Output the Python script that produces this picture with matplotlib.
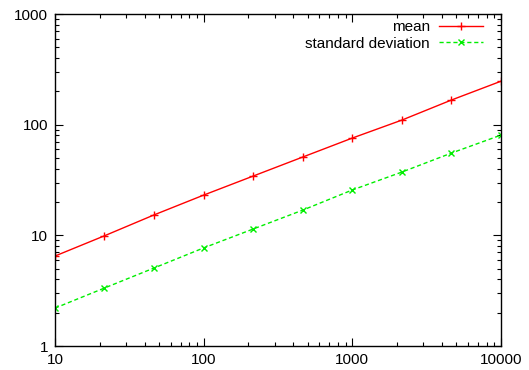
import matplotlib
matplotlib.use("Agg")
import matplotlib.pyplot as plt
from matplotlib.ticker import LogLocator, NullFormatter, FixedFormatter, FixedLocator

# ==============================
# Datos
# ==============================
n_valores = [10, 21.5, 46.4, 100, 215, 464, 1000, 2154, 4642, 10000]
media = [6.5, 9.9, 15.3, 23.1, 34.3, 51, 75.7, 110, 167, 247]
desviacion = [2.2, 3.34, 5.07, 7.7, 11.4, 16.9, 25.7, 37.3, 55.4, 80.5]

x_ticks = [10, 100, 1000, 10000]
y_ticks = [1, 10, 100, 1000]

plt.rcParams["font.family"] = ["Liberation Sans", "DejaVu Sans"]

fig = plt.figure(figsize=(5.29, 3.70), dpi=100)
ax = fig.add_axes([55 / 529, 24 / 370, 446 / 529, 332 / 370])

l1, = ax.plot(n_valores, media, color="#ff0000", lw=1.0, marker="+", ms=6, mew=1.0)
l2, = ax.plot(n_valores, desviacion, color="#00ee00", lw=1.0, ls=(0, (3, 2)),
              marker="x", ms=5, mew=1.0)

ax.set_xscale("log")
ax.set_yscale("log")
ax.set_xlim(10, 10000)
ax.set_ylim(1, 1000)

for axis, ticks in [(ax.xaxis, x_ticks), (ax.yaxis, y_ticks)]:
    axis.set_major_locator(FixedLocator(ticks))
    axis.set_major_formatter(FixedFormatter([str(t) for t in ticks]))
    axis.set_minor_locator(LogLocator(base=10, subs=range(2, 10)))
    axis.set_minor_formatter(NullFormatter())

ax.tick_params(which="both", direction="in", top=True, right=True, labelsize=11, width=0.8)
ax.tick_params(which="major", length=6, pad=5)
ax.tick_params(which="minor", length=3)
for s in ax.spines.values():
    s.set_linewidth(1.0)

# leyenda alineada a la derecha (una entrada por leyenda)
kw = dict(frameon=False, markerfirst=False, fontsize=11, handlelength=2.9,
          handletextpad=0.6, borderaxespad=0, loc="upper right")
leg1 = ax.legend([l1], ["mean"], bbox_to_anchor=(0.974, 0.999), **kw)
ax.add_artist(leg1)
ax.legend([l2], ["standard deviation"], bbox_to_anchor=(0.974, 0.950), **kw)

fig.savefig("out.png", dpi=100)
